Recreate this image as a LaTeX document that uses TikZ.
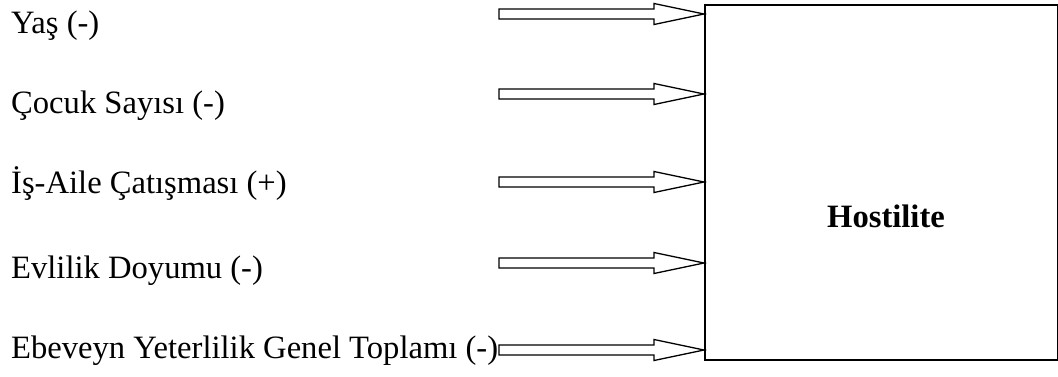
\documentclass[tikz,border=0pt]{standalone}
\usepackage{fontspec}
\setmainfont{Liberation Serif}
\usetikzlibrary{calc}
\begin{document}
\begin{tikzpicture}[x=1pt,y=-1pt,
  lbl/.style={anchor=base west,inner sep=0pt,font=\fontsize{32.6}{36}\selectfont},
  boxstyle/.style={draw,line width=1.5pt,minimum width=353pt,minimum height=355pt,inner sep=0pt,anchor=north west},
  blockarrow/.style={draw,line width=1.3pt,fill=white,line join=miter}]
\useasboundingbox (0,0) rectangle (1058,376);
\node[boxstyle] (box) at (704,4) {};
\node[anchor=base,inner sep=0pt,font=\fontsize{32.6}{36}\selectfont\bfseries] (hl) at (886,227) {Hostilite};
\node[lbl] (l1) at (11,33) {Yaş (-)};
\node[lbl] (l2) at (11,113) {Çocuk Sayısı (-)};
\node[lbl] (l3) at (11,193) {İş-Aile Çatışması (+)};
\node[lbl] (l4) at (11,278) {Evlilik Doyumu (-)};
\node[lbl] (l5) at (11,358) {Ebeveyn Yeterlilik Genel Toplamı (-)};
\foreach \i/\ty in {1/14,2/94,3/182,4/263,5/350}{
  \coordinate (t\i) at (box.west |- 0,\ty);
  \draw[blockarrow] (t\i) -- ++(-50,-10.5) -- ++(0,5.5) -- ++(-155,0) -- ++(0,10) -- ++(155,0) -- ++(0,5.5) -- cycle;
}
\end{tikzpicture}
\end{document}
